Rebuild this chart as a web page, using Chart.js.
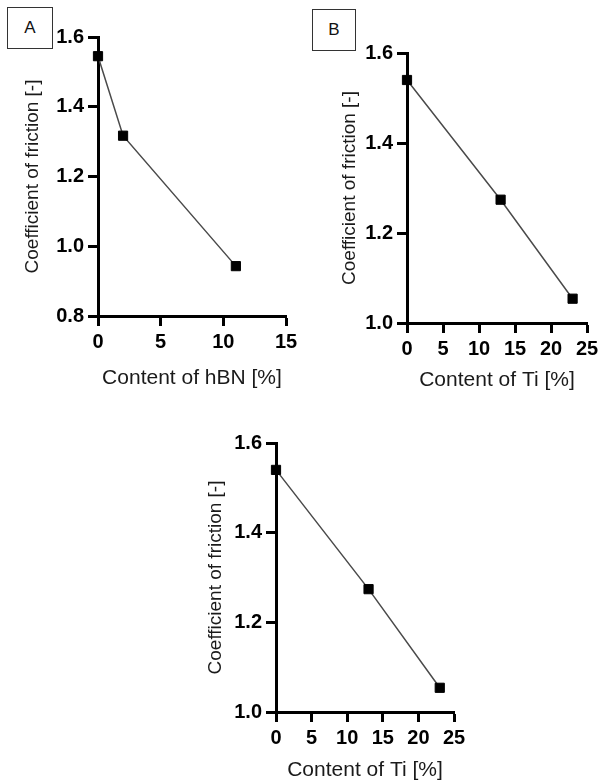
<!DOCTYPE html>
<html lang="en">
<head>
  <meta charset="UTF-8" />
  <title>Coefficient of friction</title>
  <script src="https://cdn.jsdelivr.net/npm/chart.js"></script>
  <style>
    html, body { margin: 0; padding: 0; background: #fff; }
    body { width: 598px; height: 784px; overflow: hidden; position: relative; font-family: "Liberation Sans", Arial, sans-serif; }
    .panel { position: absolute; }
    .tag {
      position: absolute; border: 1px solid #333; background: #fff;
      font-size: 17px; color: #111; display: flex; align-items: center; justify-content: center;
      box-sizing: border-box;
    }
  </style>
</head>
<body>
  <div class="tag" style="left:7px; top:7px; width:46px; height:42px;">A</div>
  <div class="tag" style="left:312px; top:9px; width:44px; height:42px;">B</div>

  <canvas id="chartA" class="panel" style="left:0px; top:0px;"></canvas>
  <canvas id="chartB" class="panel" style="left:300px; top:0px;"></canvas>
  <canvas id="chartC" class="panel" style="left:180px; top:400px;"></canvas>

  <script>
    // panel A: hBN
    const hbnContent = [0, 2, 11];
    const hbnFriction = [1.545, 1.317, 0.943];
    const hbnXTicks = [0, 5, 10, 15];
    const hbnYTicks = [0.8, 1.0, 1.2, 1.4, 1.6];

    // panels B and C: Ti (same data twice)
    const tiContent = [0, 13, 23];
    const tiFriction = [1.54, 1.274, 1.054];
    const tiXTicks = [0, 5, 10, 15, 20, 25];
    const tiYTicks = [1.0, 1.2, 1.4, 1.6];

    const yTitle = 'Coefficient of friction [-]';
    const FONT = '"Liberation Sans", Arial, sans-serif';

    function makeChart(id, cfg) {
      const el = document.getElementById(id);
      el.width = cfg.w;
      el.height = cfg.h;
      el.style.width = cfg.w + 'px';
      el.style.height = cfg.h + 'px';

      const axisGrid = {
        display: true,
        drawOnChartArea: false,
        drawTicks: true,
        tickLength: 10,
        tickWidth: 3,
        tickColor: '#000'
      };
      const axisBorder = { display: true, width: 3, color: '#000' };

      return new Chart(el, {
        type: 'line',
        data: {
          datasets: [{
            data: cfg.xs.map((x, i) => ({ x: x, y: cfg.ys[i] })),
            borderColor: '#4a4a4a',
            borderWidth: 1.5,
            pointStyle: 'rect',
            pointRadius: 6.5,
            pointBackgroundColor: '#000',
            pointBorderColor: '#000',
            pointBorderWidth: 1,
            tension: 0,
            clip: false
          }]
        },
        options: {
          responsive: false,
          animation: false,
          events: [],
          layout: { padding: { top: cfg.padTop, right: 24, left: 0, bottom: 0 } },
          plugins: { legend: { display: false }, tooltip: { enabled: false } },
          scales: {
            x: {
              type: 'linear',
              min: cfg.xTicks[0],
              max: cfg.xTicks[cfg.xTicks.length - 1],
              afterBuildTicks: s => { s.ticks = cfg.xTicks.map(v => ({ value: v })) },
              afterFit: s => { s.height = cfg.xH },
              grid: axisGrid,
              border: axisBorder,
              ticks: { color: '#000', padding: 4, maxRotation: 0, font: { family: FONT, size: 20, weight: 'bold' } },
              title: {
                display: true, text: cfg.xTitle, color: '#1a1a1a',
                font: { family: FONT, size: 21 }, padding: { top: 0, bottom: 5 }
              }
            },
            y: {
              type: 'linear',
              min: cfg.yTicks[0],
              max: cfg.yTicks[cfg.yTicks.length - 1],
              afterBuildTicks: s => { s.ticks = cfg.yTicks.map(v => ({ value: v })) },
              afterFit: s => { s.width = cfg.yW },
              grid: axisGrid,
              border: axisBorder,
              ticks: {
                color: '#000', padding: 4,
                font: { family: FONT, size: 20, weight: 'bold' },
                callback: v => Number(v).toFixed(1)
              },
              title: {
                display: true, text: yTitle, color: '#1a1a1a',
                font: { family: FONT, size: 19 }, padding: { top: cfg.yTitlePad, bottom: 0 }
              }
            }
          }
        }
      });
    }

    makeChart('chartA', {
      w: 310, h: 396, padTop: 37, yW: 98, xH: 80, yTitlePad: 21,
      xs: hbnContent, ys: hbnFriction, xTicks: hbnXTicks, yTicks: hbnYTicks,
      xTitle: 'Content of hBN [%]'
    });

    makeChart('chartB', {
      w: 311, h: 398, padTop: 53, yW: 107, xH: 75, yTitlePad: 38,
      xs: tiContent, ys: tiFriction, xTicks: tiXTicks, yTicks: tiYTicks,
      xTitle: 'Content of Ti [%]'
    });

    makeChart('chartC', {
      w: 298, h: 388, padTop: 43, yW: 96, xH: 76, yTitlePad: 24,
      xs: tiContent, ys: tiFriction, xTicks: tiXTicks, yTicks: tiYTicks,
      xTitle: 'Content of Ti [%]'
    });
  </script>
</body>
</html>
